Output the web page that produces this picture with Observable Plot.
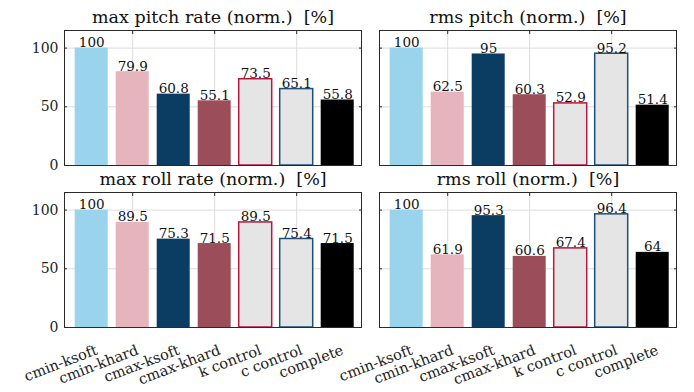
<!DOCTYPE html>
<html>
<head>
<meta charset="utf-8">
<script src="https://cdn.jsdelivr.net/npm/d3@7"></script>
<script src="https://cdn.jsdelivr.net/npm/@observablehq/plot@0.6"></script>
<style>
  html, body { margin: 0; padding: 0; background: #fff; }
  #chart { width: 694px; height: 392px; }
</style>
</head>
<body>
<div id="chart"></div>
<script>
const categories = ["cmin-ksoft", "cmin-khard", "cmax-ksoft", "cmax-khard", "k control", "c control", "complete"];
const maxPitchRate = [100, 79.9, 60.8, 55.1, 73.5, 65.1, 55.8];
const rmsPitch = [100, 62.5, 95, 60.3, 52.9, 95.2, 51.4];
const maxRollRate = [100, 89.5, 75.3, 71.5, 89.5, 75.4, 71.5];
const rmsRoll = [100, 61.9, 95.3, 60.6, 67.4, 96.4, 64];
const panelTitles = ["max pitch rate (norm.)\u00a0 [%]", "rms pitch (norm.)\u00a0 [%]", "max roll rate (norm.)\u00a0 [%]", "rms roll (norm.)\u00a0 [%]"];
const barFills = ["#9AD3EC", "#E6B4BC", "#0B3D62", "#9C4D5A", "#E5E5E5", "#E5E5E5", "#000000"];
const barStrokes = ["none", "none", "none", "none", "#B5173F", "#1F5079", "none"];
const yTicks = [0, 50, 100];

const panelSeries = [maxPitchRate, rmsPitch, maxRollRate, rmsRoll];
const panels = panelSeries.map((vals, p) => ({col: p % 2, row: Math.floor(p / 2), title: panelTitles[p]}));
const rows = [];
panelSeries.forEach((vals, p) => {
  vals.forEach((v, i) => rows.push({
    col: p % 2, row: Math.floor(p / 2), cat: categories[i], value: v,
    label: String(v), fill: barFills[i], stroke: barStrokes[i]
  }));
});
const gridCats = [categories[1], categories[3], categories[5]];
const font = "DejaVu Serif";

const chart = Plot.plot({
  width: 694,
  height: 392,
  marginLeft: 63.3,
  marginRight: 18,
  marginTop: 29.3,
  marginBottom: 65.3,
  style: {fontFamily: "DejaVu Serif", fontSize: "14px", color: "#222", background: "#fff"},
  fx: {domain: [0, 1], axis: null, paddingInner: 0.0565, paddingOuter: 0},
  fy: {domain: [0, 1], axis: null, paddingInner: 0.168, paddingOuter: 0},
  x: {domain: categories, paddingInner: 0.2, paddingOuter: 0.185, align: 0.6, label: null},
  y: {domain: [0, 115], label: null},
  color: {type: "identity"},
  marks: [
    Plot.gridY(yTicks.slice(1), {stroke: "#dcdcdc", strokeOpacity: 1}),
    Plot.gridX(gridCats, {stroke: "#dcdcdc", strokeOpacity: 1}),
    Plot.barY(rows, {x: "cat", y: "value", fx: "col", fy: "row", fill: "fill", stroke: "stroke", strokeWidth: 1.5}),
    Plot.ruleY([0], {stroke: "#1a1a1a", strokeWidth: 1.2}),
    Plot.frame({stroke: "#2a2a2a", strokeWidth: 1}),
    Plot.axisY(yTicks, {anchor: "left", tickSize: 3, dx: 3, text: null, label: null, facetAnchor: null, stroke: "#2a2a2a"}),
    Plot.axisY(yTicks, {anchor: "right", tickSize: 3, dx: -3, text: null, label: null, facetAnchor: null, stroke: "#2a2a2a"}),
    Plot.axisX(gridCats, {anchor: "top", tickSize: 3, dy: 3, text: null, label: null, facetAnchor: null, stroke: "#2a2a2a"}),
    Plot.axisY(yTicks, {anchor: "left", tickSize: 0, tickPadding: 6, label: null, fontSize: 14, fontFamily: font, fill: "#222"}),
    Plot.axisX({anchor: "bottom", tickSize: 0, tickPadding: 4, dy: 18, dx: 5, tickRotate: -21, label: null, fontSize: 14.5, fontFamily: font, fill: "#222"}),
    Plot.text(rows, {x: "cat", y: "value", fx: "col", fy: "row", text: "label", lineAnchor: "bottom", dy: -1, fontSize: 13.5, fontFamily: font, fill: "#111"}),
    Plot.text(panels, {fx: "col", fy: "row", text: "title", frameAnchor: "top", lineAnchor: "bottom", dy: -8, fontSize: 17.5, fontFamily: font, fill: "#111"})
  ]
});
document.getElementById("chart").appendChild(chart);
</script>
</body>
</html>
